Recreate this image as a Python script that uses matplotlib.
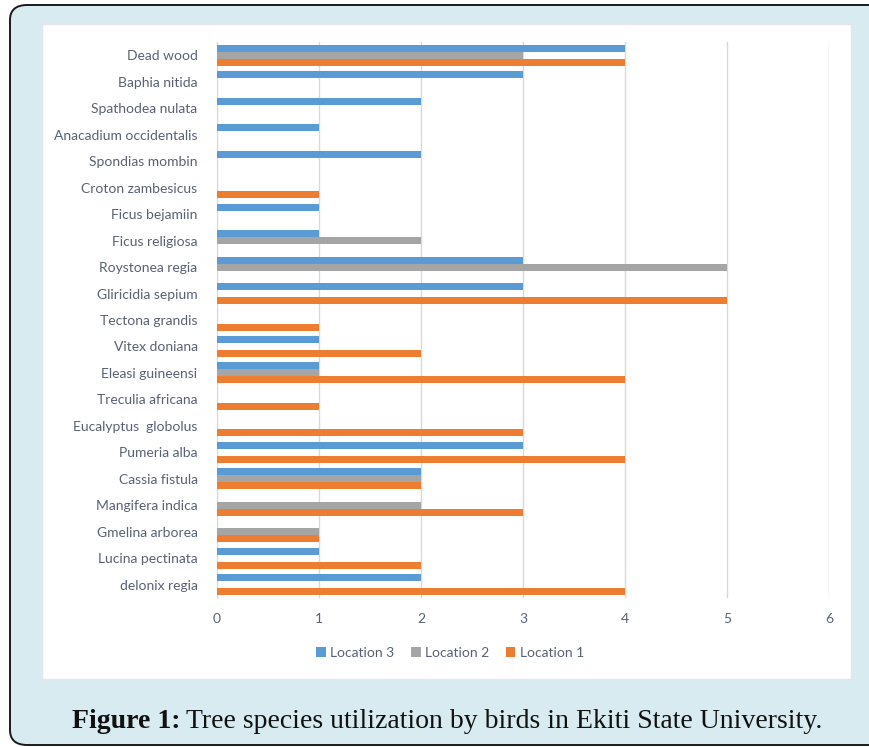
import matplotlib.pyplot as plt
from matplotlib.patches import FancyBboxPatch, Rectangle
import numpy as np

species = [
    "Dead wood", "Baphia nitida", "Spathodea nulata", "Anacadium occidentalis",
    "Spondias mombin", "Croton zambesicus", "Ficus bejamiin", "Ficus religiosa",
    "Roystonea regia", "Gliricidia sepium", "Tectona grandis", "Vitex doniana",
    "Eleasi guineensi", "Treculia africana", "Eucalyptus  globolus", "Pumeria alba",
    "Cassia fistula", "Mangifera indica", "Gmelina arborea", "Lucina pectinata",
    "delonix regia",
]
location3 = [4, 3, 2, 1, 2, 0, 1, 1, 3, 3, 0, 1, 1, 0, 0, 3, 2, 0, 0, 1, 2]
location2 = [3, 0, 0, 0, 0, 0, 0, 2, 5, 0, 0, 0, 1, 0, 0, 0, 2, 2, 1, 0, 0]
location1 = [4, 0, 0, 0, 0, 1, 0, 0, 0, 5, 1, 2, 4, 1, 3, 4, 2, 3, 1, 2, 4]
x_ticks = [0, 1, 2, 3, 4, 5, 6]

c_blue, c_gray, c_orange = "#5B9BD5", "#A5A5A5", "#ED7D31"
text_col = "#596273"

plt.rcParams["font.family"] = ["Lato", "DejaVu Sans"]

fig = plt.figure(figsize=(8.7, 7.47), dpi=100)
W, H = 870, 747

# page background and rounded frame
fig.patch.set_facecolor("white")
frame = FancyBboxPatch((10 / W, 2 / H), 900 / W, 740 / H,
                       boxstyle="round,pad=0,rounding_size=0.02",
                       transform=fig.transFigure, facecolor="#D8EBF0",
                       edgecolor="#1a1a1a", linewidth=1.4, zorder=0)
fig.patches.append(frame)
# white chart panel
panel = Rectangle((42 / W, 1 - 679 / H), (851 - 42) / W, (679 - 24) / H,
                  transform=fig.transFigure, facecolor="white",
                  edgecolor="#E4E6EA", linewidth=1.0, zorder=1)
fig.patches.append(panel)

ax = fig.add_axes([217 / W, 1 - 598 / H, (829 - 217) / W, (598 - 42) / H])
ax.set_zorder(3)
ax.set_facecolor("none")

n = len(species)
y = np.arange(n)[::-1].astype(float)
h = 0.265
ax.barh(y + h, location3, height=h, color=c_blue, label="Location 3", zorder=3)
ax.barh(y, location2, height=h, color=c_gray, label="Location 2", zorder=3)
ax.barh(y - h, location1, height=h, color=c_orange, label="Location 1", zorder=3)

ax.set_xlim(0, 6)
ax.set_ylim(-0.5, n - 0.5)
ax.set_xticks(x_ticks)
ax.set_yticks(y)
ax.set_yticklabels(species)
ax.grid(axis="x", color="#D9D9D9", linewidth=1.0, zorder=0)
ax.set_axisbelow(True)
for s in ["top", "right", "bottom"]:
    ax.spines[s].set_visible(False)
ax.spines["left"].set_color("#D9D9D9")
ax.tick_params(axis="both", length=0, labelcolor=text_col, labelsize=10)
ax.tick_params(axis="y", pad=14)
ax.tick_params(axis="x", pad=11)

leg = ax.legend(loc="center", bbox_to_anchor=(450 / W, 1 - 653 / H),
                bbox_transform=fig.transFigure, ncol=3, frameon=False,
                fontsize=10, handlelength=0.7, handleheight=0.7,
                handletextpad=0.3, columnspacing=1.2)
for t in leg.get_texts():
    t.set_color(text_col)

# caption: bold label followed by regular text
cap_y = 1 - 721 / H
serif = ["Liberation Serif", "DejaVu Serif"]
t1 = fig.text(72 / W, cap_y, "Figure 1:", fontsize=20, fontweight="bold",
              family=serif, color="#111111", va="center", ha="left")
fig.canvas.draw()
bb = t1.get_window_extent()
fig.text((bb.x1 + 6) / W, cap_y,
         "Tree species utilization by birds in Ekiti State University.",
         fontsize=20, family=serif, color="#111111", va="center", ha="left")

fig.savefig("out.png", dpi=100)
